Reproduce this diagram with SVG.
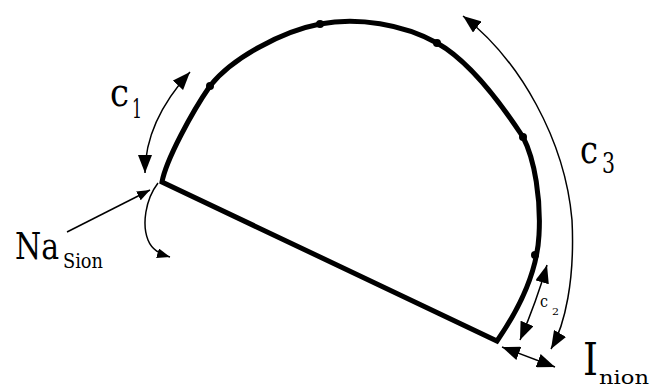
<svg xmlns="http://www.w3.org/2000/svg" width="652" height="388" viewBox="0 0 652 388">
<style>
.main{fill:none;stroke:#000;stroke-width:5;stroke-linejoin:miter;stroke-linecap:round}
.thin{fill:none;stroke:#000;stroke-width:1.5}
text{fill:#000;font-family:"DejaVu Serif","Liberation Serif","Noto Serif",serif}
</style>
<defs>
<marker id="ah" markerUnits="userSpaceOnUse" markerWidth="20" markerHeight="14" refX="18" refY="7" orient="auto-start-reverse" viewBox="0 0 20 14">
<path d="M0,0 L18,7 L0,14 Z" fill="#000"/>
</marker>
<marker id="as" markerUnits="userSpaceOnUse" markerWidth="14" markerHeight="10" refX="13" refY="5" orient="auto-start-reverse" viewBox="0 0 14 10">
<path d="M0,0 L13,5 L0,10 Z" fill="#000"/>
</marker>
</defs>
<rect width="652" height="388" fill="#fff"/>
<g id="skull">
<path class="main" d="M162,182 C166,160 192,112 210,86 C232,58 282.2,31.2 320,24 C357.8,16.8 403.2,24.2 437,43 C470.8,61.8 505.8,110.8 523,137 C535,160 541,200 539,235 C537,275 515,315 497,341 L162,182 Z"/>
<circle cx="210" cy="86" r="4"/>
<circle cx="320" cy="24" r="4"/>
<circle cx="437" cy="43" r="4"/>
<circle cx="523" cy="137" r="4"/>
<circle cx="535" cy="255" r="4"/>
</g>
<g id="connectors">
<path class="thin" d="M145,173 C145,140 160,105 190,72" marker-start="url(#ah)" marker-end="url(#ah)"/>
<path class="thin" d="M463,16 C520,60 565,140 572,220 C575,280 565,325 551,349" marker-start="url(#ah)" marker-end="url(#ah)"/>
<path class="thin" d="M547,265 Q537,300 520,340" marker-start="url(#ah)" marker-end="url(#ah)"/>
<path class="thin" d="M502,347 L555,367" marker-start="url(#ah)" marker-end="url(#ah)"/>
<path class="thin" d="M67,232 L150,190" marker-end="url(#as)"/>
<path class="thin" d="M158,183 C145,200 142,225 148,240 C152,250 160,254 170,257" marker-end="url(#as)"/>
</g>
<g id="label-c1"><text x="110" y="106" font-size="40" textLength="19" lengthAdjust="spacingAndGlyphs">c</text><text x="132" y="118" font-size="26" textLength="10" lengthAdjust="spacingAndGlyphs">1</text></g>
<g id="label-c3"><text x="580" y="163" font-size="40" textLength="18" lengthAdjust="spacingAndGlyphs">c</text><text x="602" y="173" font-size="28" textLength="13" lengthAdjust="spacingAndGlyphs">3</text></g>
<g id="label-c2"><text x="540" y="307" font-size="17" textLength="8" lengthAdjust="spacingAndGlyphs">c</text><text x="552" y="315" font-size="10" textLength="7" lengthAdjust="spacingAndGlyphs">2</text></g>
<g id="label-nasion"><text x="15" y="259" font-size="37" textLength="44" lengthAdjust="spacingAndGlyphs">Na</text><text x="63" y="268" font-size="20" textLength="40" lengthAdjust="spacingAndGlyphs">Sion</text></g>
<g id="label-inion"><text x="583" y="375" font-size="45" textLength="15" lengthAdjust="spacingAndGlyphs">I</text><text x="599" y="384" font-size="18" textLength="50" lengthAdjust="spacingAndGlyphs">nion</text></g>
</svg>
